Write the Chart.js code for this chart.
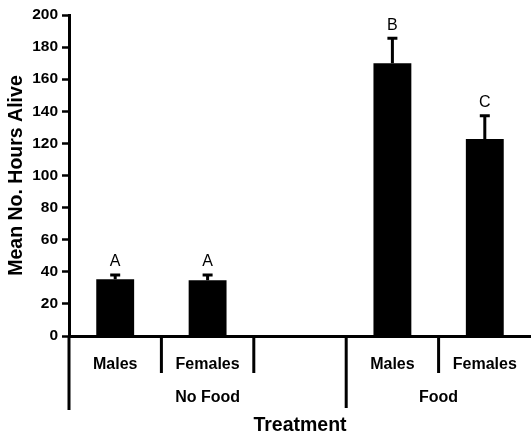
<!DOCTYPE html>
<html>
<head>
<meta charset="utf-8">
<script src="https://cdn.jsdelivr.net/npm/chart.js@4.4.1/dist/chart.umd.min.js"></script>
<style>
  html, body { margin: 0; padding: 0; background: #fff; }
  #wrap { width: 531px; height: 438px; }
</style>
</head>
<body>
<div id="wrap"><canvas id="chart"></canvas></div>
<script>
// values
const categories = ['Males', 'Females', '', 'Males', 'Females'];
const groups = [
  { name: 'No Food', from: 0, to: 2 },
  { name: 'Food', from: 3, to: 4 }
];
const meanHours = [35.3, 34.7, null, 169.9, 122.7];
const errorTop = [38, 38, null, 185.5, 137.3];
const letters = ['A', 'A', '', 'B', 'C'];
const yTicks = [0, 20, 40, 60, 80, 100, 120, 140, 160, 180, 200];

const FONT = 'Arial, "Liberation Sans", sans-serif';

// error bars, significance letters and the grouped axis underneath
const extras = {
  id: 'extras',
  afterDatasetsDraw(chart) {
    const ctx = chart.ctx;
    const x = chart.scales.x;
    const y = chart.scales.y;
    const area = chart.chartArea;
    ctx.save();
    ctx.strokeStyle = '#000';
    ctx.fillStyle = '#000';
    ctx.lineWidth = 3;

    meanHours.forEach((v, i) => {
      if (v == null) return;
      const cx = x.getPixelForValue(i);
      const yBar = y.getPixelForValue(v);
      const yErr = y.getPixelForValue(errorTop[i]);
      ctx.beginPath();
      ctx.moveTo(cx, yBar);
      ctx.lineTo(cx, yErr);
      ctx.moveTo(cx - 5, yErr);
      ctx.lineTo(cx + 5, yErr);
      ctx.stroke();

      ctx.font = '16px ' + FONT;
      ctx.textAlign = 'center';
      ctx.textBaseline = 'middle';
      ctx.fillText(letters[i], cx, yErr - 13);
    });

    // separators below the x axis
    const step = x.getPixelForValue(1) - x.getPixelForValue(0);
    const bottom = area.bottom;
    ctx.lineWidth = 3;
    ctx.beginPath();
    ctx.moveTo(area.left, bottom);
    ctx.lineTo(area.left, bottom + 74);
    for (let i = 0; i < categories.length - 1; i++) {
      const bx = x.getPixelForValue(i) + step / 2;
      const isGroupEdge = groups.some(g => g.to === i);
      ctx.moveTo(bx, bottom);
      ctx.lineTo(bx, bottom + (isGroupEdge ? 72 : 37));
    }
    ctx.stroke();

    ctx.font = 'bold 16px ' + FONT;
    ctx.textAlign = 'center';
    ctx.textBaseline = 'middle';
    groups.forEach(g => {
      const l = g.from === 0 ? area.left : x.getPixelForValue(g.from) - step / 2;
      const r = x.getPixelForValue(g.to) + step / 2;
      const cx = g.from === 0 ? (l + r) / 2 : x.getPixelForValue(g.from) + step / 2;
      ctx.fillText(g.name, cx, bottom + 62);
    });
    ctx.restore();
  }
};

new Chart(document.getElementById('chart'), {
  type: 'bar',
  data: {
    labels: categories,
    datasets: [{
      data: meanHours,
      backgroundColor: '#000',
      borderWidth: 0,
      barPercentage: 0.41,
      categoryPercentage: 1
    }]
  },
  options: {
    responsive: true,
    maintainAspectRatio: false,
    animation: false,
    layout: { padding: { top: 15, right: -5, bottom: 0, left: 0 } },
    plugins: {
      legend: { display: false },
      tooltip: { enabled: false }
    },
    scales: {
      x: {
        grid: { display: false },
        border: { display: true, color: '#000', width: 3 },
        ticks: {
          color: '#000',
          padding: 11,
          maxRotation: 0,
          font: { family: FONT, size: 16, weight: 'bold' }
        },
        title: {
          display: true,
          text: 'Treatment',
          color: '#000',
          padding: { top: 0, bottom: 1 },
          font: { family: FONT, size: 19.5, weight: 'bold' }
        },
        afterFit(s) { s.height = 102; }
      },
      y: {
        min: 0,
        max: 200,
        afterBuildTicks(s) { s.ticks = yTicks.map(v => ({ value: v })); },
        grid: {
          drawOnChartArea: false,
          drawTicks: true,
          tickLength: 7,
          tickWidth: 2.5,
          color: '#000'
        },
        border: { display: true, color: '#000', width: 3 },
        ticks: {
          color: '#000',
          padding: 4,
          font: { family: FONT, size: 15.5, weight: 'bold' }
        },
        title: {
          display: true,
          text: 'Mean No. Hours Alive',
          color: '#000',
          padding: { top: 5, bottom: 0 },
          font: { family: FONT, size: 19.5, weight: 'bold' }
        },
        afterFit(s) { s.width = 69; }
      }
    }
  },
  plugins: [extras]
});
</script>
</body>
</html>
